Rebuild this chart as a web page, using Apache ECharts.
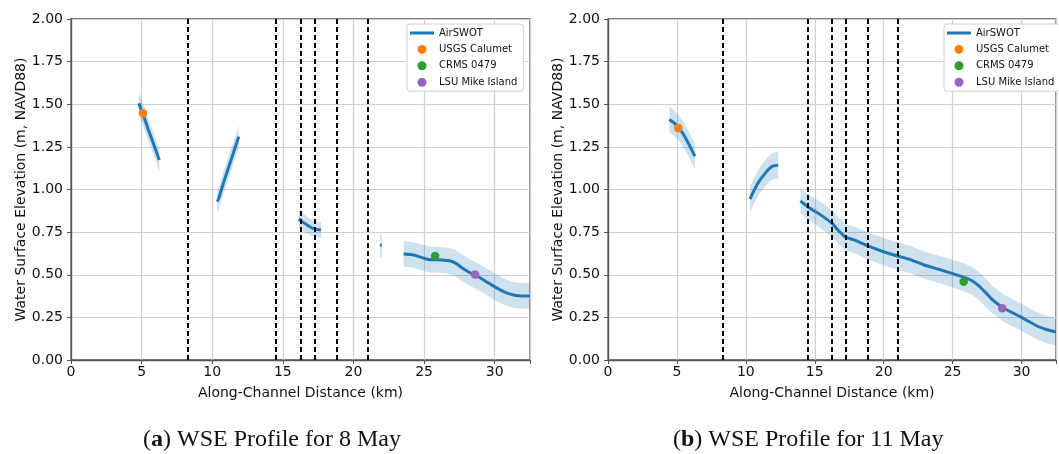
<!DOCTYPE html>
<html>
<head>
<meta charset="utf-8">
<script src="https://cdn.jsdelivr.net/npm/echarts@6/dist/echarts.min.js"></script>
<style>
html,body{margin:0;padding:0;background:#fff;}
#c{width:1059px;height:454px;}
</style>
</head>
<body>
<div id="c"></div>
<script>
// ---------- DATA ----------
// Panel (a) 8 May : AirSWOT profile segments (km, m) and half-width of uncertainty band
const mayA_seg1_x = [4.8, 5.1, 5.5, 6.0, 6.25];
const mayA_seg1_y = [1.505, 1.44, 1.345, 1.232, 1.173];
const mayA_seg1_e = [0.065, 0.065, 0.065, 0.065, 0.065];

const mayA_seg2_x = [10.35, 10.45, 10.8, 11.2, 11.6, 11.88];
const mayA_seg2_y = [0.93, 0.945, 1.04, 1.14, 1.24, 1.31];
const mayA_seg2_e = [0.065, 0.065, 0.065, 0.065, 0.065, 0.065];

const mayA_seg3_x = [16.13, 16.4, 16.8, 17.2, 17.5, 17.7];
const mayA_seg3_y = [0.827, 0.81, 0.787, 0.77, 0.765, 0.762];
const mayA_seg3_e = [0.05, 0.05, 0.048, 0.047, 0.046, 0.045];

const mayA_seg4_x = [21.88, 22.0];
const mayA_seg4_y = [0.674, 0.672];
const mayA_seg4_e = [0.07, 0.07];

const mayA_seg5_x = [23.55, 24.2, 24.8, 25.3, 26.0, 26.7, 27.2, 27.7, 28.3, 28.8, 29.5, 30.2, 30.8, 31.4, 32.0, 32.5];
const mayA_seg5_y = [0.622, 0.617, 0.602, 0.59, 0.588, 0.583, 0.57, 0.54, 0.51, 0.49, 0.455, 0.42, 0.395, 0.38, 0.376, 0.376];
const mayA_seg5_e = [0.075, 0.075, 0.075, 0.075, 0.075, 0.075, 0.077, 0.078, 0.078, 0.078, 0.078, 0.078, 0.077, 0.076, 0.075, 0.075];

// Panel (b) 11 May
const mayB_seg1_x = [4.45, 4.8, 5.1, 5.5, 5.9, 6.3];
const mayB_seg1_y = [1.41, 1.39, 1.365, 1.32, 1.26, 1.195];
const mayB_seg1_e = [0.075, 0.075, 0.075, 0.075, 0.075, 0.075];

const mayB_seg2_x = [10.3, 10.6, 10.9, 11.25, 11.7, 12.0, 12.35];
const mayB_seg2_y = [0.944, 0.995, 1.04, 1.08, 1.122, 1.138, 1.143];
const mayB_seg2_e = [0.075, 0.075, 0.075, 0.077, 0.078, 0.078, 0.078];

const mayB_seg3_x = [13.96, 14.53, 15.26, 16.28, 16.68, 17.24, 17.86, 18.85, 19.99, 21.0, 21.88, 22.94, 24.0, 24.95, 25.89, 26.4, 26.9, 27.4, 27.9, 28.72, 29.91, 31.09, 31.92, 32.5];
const mayB_seg3_y = [0.933, 0.896, 0.86, 0.80, 0.762, 0.72, 0.704, 0.669, 0.635, 0.61, 0.59, 0.557, 0.532, 0.508, 0.483, 0.465, 0.435, 0.395, 0.352, 0.303, 0.254, 0.201, 0.176, 0.165];
const mayB_seg3_e = [0.075, 0.075, 0.077, 0.078, 0.078, 0.078, 0.078, 0.08, 0.08, 0.08, 0.08, 0.08, 0.08, 0.082, 0.082, 0.082, 0.082, 0.082, 0.08, 0.08, 0.08, 0.08, 0.08, 0.08];

// Gauge observations [km, m]
const mayA_usgs = [[5.1, 1.447]];
const mayA_crms = [[25.78, 0.61]];
const mayA_lsu  = [[28.61, 0.502]];
const mayB_usgs = [[5.1, 1.36]];
const mayB_crms = [[25.8, 0.459]];
const mayB_lsu  = [[28.6, 0.303]];

// Reach boundaries (dashed vertical lines), km
const divisionsKm = [8.3, 14.52, 16.25, 17.24, 18.85, 21.0];

// Axis ticks
const xTickStep = 5;
const xMax = 32.5;
const yTickStep = 0.25;
const yMax = 2.0;

const legendNames = ['AirSWOT', 'USGS Calumet', 'CRMS 0479', 'LSU Mike Island'];
const captions = [['a', ' WSE Profile for 8 May'], ['b', ' WSE Profile for 11 May']];
const xName = 'Along-Channel Distance (km)';
const yName = 'Water Surface Elevation (m, NAVD88)';

// ---------- CHART ----------
const C_BLUE = '#1f77b4', C_ORANGE = '#ff7f0e', C_GREEN = '#2ca02c', C_PURPLE = '#9467bd';
const FONT = 'DejaVu Sans';

const panels = [
  { segs: [
      {x: mayA_seg1_x, y: mayA_seg1_y, e: mayA_seg1_e},
      {x: mayA_seg2_x, y: mayA_seg2_y, e: mayA_seg2_e},
      {x: mayA_seg3_x, y: mayA_seg3_y, e: mayA_seg3_e},
      {x: mayA_seg4_x, y: mayA_seg4_y, e: mayA_seg4_e},
      {x: mayA_seg5_x, y: mayA_seg5_y, e: mayA_seg5_e}],
    usgs: mayA_usgs, crms: mayA_crms, lsu: mayA_lsu },
  { segs: [
      {x: mayB_seg1_x, y: mayB_seg1_y, e: mayB_seg1_e},
      {x: mayB_seg2_x, y: mayB_seg2_y, e: mayB_seg2_e},
      {x: mayB_seg3_x, y: mayB_seg3_y, e: mayB_seg3_e}],
    usgs: mayB_usgs, crms: mayB_crms, lsu: mayB_lsu }
];

const gridLeft = [71, 608];
const gridWidth = 459;
const gridTop = 19, gridHeight = 341;

const grids = [], xAxes = [], yAxes = [], series = [], legends = [], titles = [];

panels.forEach((p, gi) => {
  grids.push({ left: gridLeft[gi], top: gridTop, width: gridWidth, height: gridHeight,
    show: true, borderColor: '#555', borderWidth: 1.3, backgroundColor: 'transparent', containLabel: false });
  xAxes.push({
    type: 'value', gridIndex: gi, min: 0, max: xMax, interval: xTickStep,
    name: xName, nameLocation: 'middle', nameGap: 26,
    nameTextStyle: { fontFamily: FONT, fontSize: 14, color: '#111' },
    axisLine: { show: true, onZero: false, lineStyle: { color: '#555', width: 1.3 } },
    axisTick: { show: true, length: 4, lineStyle: { color: '#555', width: 1 } },
    axisLabel: { fontFamily: FONT, fontSize: 14, color: '#111', margin: 5,
      formatter: v => (Math.abs(v / xTickStep - Math.round(v / xTickStep)) < 1e-6 ? String(v) : '') },
    splitLine: { show: true, lineStyle: { color: '#cfcfcf', width: 1.2 } }
  });
  yAxes.push({
    type: 'value', gridIndex: gi, min: 0, max: yMax, interval: yTickStep,
    name: yName, nameLocation: 'middle', nameGap: 43,
    nameTextStyle: { fontFamily: FONT, fontSize: 14, color: '#111' },
    axisLine: { show: true, lineStyle: { color: '#555', width: 1.3 } },
    axisTick: { show: true, length: 4, lineStyle: { color: '#555', width: 1 } },
    axisLabel: { fontFamily: FONT, fontSize: 14, color: '#111', margin: 8, formatter: v => v.toFixed(2) },
    splitLine: { show: true, lineStyle: { color: '#cfcfcf', width: 1.2 } }
  });

  // uncertainty bands
  series.push({
    type: 'custom', xAxisIndex: gi, yAxisIndex: gi, silent: true, clip: true, z: 1,
    data: p.segs.map((s, i) => [i]),
    encode: { x: -1, y: -1 },
    renderItem: (params, api) => {
      const s = p.segs[params.dataIndex];
      const top = s.x.map((x, j) => api.coord([x, s.y[j] + s.e[j]]));
      const bot = s.x.map((x, j) => api.coord([x, s.y[j] - s.e[j]])).reverse();
      return { type: 'polygon', shape: { points: top.concat(bot) },
        style: { fill: 'rgba(31,119,180,0.22)', stroke: null } };
    }
  });

  // AirSWOT lines
  p.segs.forEach(s => {
    series.push({
      name: 'AirSWOT', type: 'line', xAxisIndex: gi, yAxisIndex: gi,
      data: s.x.map((x, j) => [x, s.y[j]]),
      showSymbol: false, symbol: 'none', smooth: 0.2, clip: true,
      lineStyle: { color: C_BLUE, width: 3 }, itemStyle: { color: C_BLUE }, z: 3
    });
  });

  // dashed reach boundaries
  series.push({
    type: 'line', xAxisIndex: gi, yAxisIndex: gi, data: [[0, -1]], symbol: 'none', silent: true,
    lineStyle: { opacity: 0 }, z: 4,
    markLine: { silent: true, symbol: ['none', 'none'], label: { show: false },
      lineStyle: { color: '#000', width: 2, type: [5, 3] }, animation: false,
      data: divisionsKm.map(x => ({ xAxis: x })) }
  });

  const sc = (name, data, color) => ({
    name, type: 'scatter', xAxisIndex: gi, yAxisIndex: gi, data, symbol: 'circle', symbolSize: 8.5,
    itemStyle: { color, opacity: 1 }, z: 6
  });
  series.push(sc('USGS Calumet', p.usgs, C_ORANGE));
  series.push(sc('CRMS 0479', p.crms, C_GREEN));
  series.push(sc('LSU Mike Island', p.lsu, C_PURPLE));

  legends.push({
    orient: 'vertical', left: gi === 0 ? 407 : 944, top: 24,
    itemWidth: 24, itemHeight: 9, itemGap: 6.4, symbolKeepAspect: true,
    padding: [4, 6, 4, 3], backgroundColor: '#fff', borderColor: '#d0d0d0', borderWidth: 1, borderRadius: 3,
    textStyle: { fontFamily: FONT, fontSize: 10, color: '#111' },
    selectedMode: false,
    data: [{ name: legendNames[0], icon: 'path://M0,0L24,0L24,3L0,3Z', itemStyle: { color: C_BLUE, opacity: 1 } },
           { name: legendNames[1], icon: 'circle', itemStyle: { color: C_ORANGE, opacity: 1 } },
           { name: legendNames[2], icon: 'circle', itemStyle: { color: C_GREEN, opacity: 1 } },
           { name: legendNames[3], icon: 'circle', itemStyle: { color: C_PURPLE, opacity: 1 } }]
  });

  titles.push({
    text: '{n|(}{b|' + captions[gi][0] + '}{n|)' + captions[gi][1] + '}',
    left: gi === 0 ? 138 : 668, top: 423,
    textStyle: { fontWeight: 'normal', rich: {
      n: { fontFamily: 'Liberation Serif', fontSize: 24, color: '#111', fontWeight: 'normal' },
      b: { fontFamily: 'Liberation Serif', fontSize: 24, color: '#111', fontWeight: 'bold' } } }
  });
});

const chart = echarts.init(document.getElementById('c'), null, { renderer: 'canvas' });
chart.setOption({
  animation: false,
  backgroundColor: '#fff',
  title: titles,
  grid: grids, xAxis: xAxes, yAxis: yAxes,
  legend: legends,
  series: series
});
</script>
</body>
</html>
